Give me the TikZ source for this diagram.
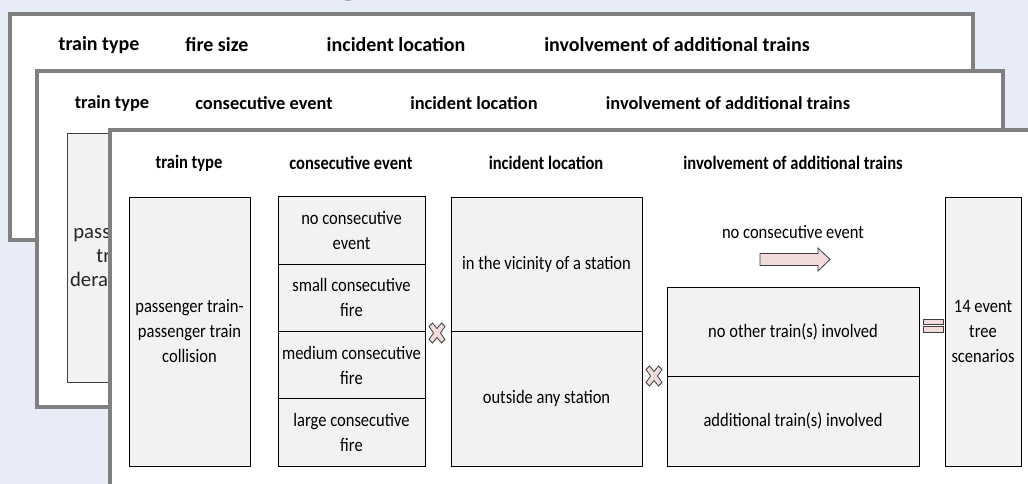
\documentclass[tikz,border=0pt]{standalone}
\usepackage{fontspec}
\setmainfont{Carlito}
\newfontfamily\pthree[FakeStretch=0.87]{Carlito}
\definecolor{bg}{RGB}{232,236,246}
\definecolor{panelgray}{RGB}{128,128,128}
\definecolor{cellfill}{RGB}{242,242,242}
\definecolor{pinkfill}{RGB}{242,220,219}
\definecolor{titleblue}{RGB}{40,70,150}
\begin{document}
\begin{tikzpicture}[x=1pt,y=-1pt,
  panel/.style={draw=panelgray, line width=4, fill=white},
  hone/.style={font=\fontsize{20}{24}\selectfont\bfseries, inner sep=0},
  htwo/.style={font=\fontsize{18.4}{22}\selectfont\bfseries, inner sep=0},
  hthree/.style={font=\pthree\fontsize{19}{25}\selectfont\bfseries, inner sep=0},
  txtthree/.style={font=\pthree\fontsize{19}{25}\selectfont, inner sep=0},
  cell/.style={draw=black, line width=1, fill=cellfill, inner sep=0, align=center,
    font=\pthree\fontsize{19}{25}\selectfont},
  oldcell/.style={draw=black!75, line width=1, fill=cellfill, inner sep=0, align=center,
    font=\fontsize{20.7}{24}\selectfont, text=black!85},
  sym/.style={draw=black!75, fill=pinkfill, line width=0.8}]
\useasboundingbox (0,0) rectangle (1028,484);
\clip (0,0) rectangle (1028,484);
\fill[bg] (0,0) rectangle (1028,484);
% partially visible title glyph (descender only, as in the reference)
\node[anchor=base, font=\fontsize{44}{44}\selectfont\bfseries, text=titleblue, inner sep=0] (title) at (349,-6) {g};

% ---------- panel 1 ----------
\draw[panel] (10,14) rectangle (973,240);
\node[hone] (p1a) at (99,45) {train type};
\node[hone] (p1b) at (217,45) {fire size};
\node[hone] (p1c) at (396,45) {incident location};
\node[hone] (p1d) at (677,45) {involvement of additional trains};

% ---------- panel 2 ----------
\draw[panel] (37,71) rectangle (1003,407);
\node[htwo] (p2a) at (112,103) {train type};
\node[htwo] (p2b) at (264,103) {consecutive event};
\node[htwo] (p2c) at (474,103) {incident location};
\node[htwo] (p2d) at (728,103) {involvement of additional trains};
\node[oldcell, minimum width=98, minimum height=248] (p2box) at (116,258) {passenger\\train\\derailment};

% ---------- panel 3 ----------
\draw[panel] (110,130) rectangle (1040,500);
\node[hthree] (p3a) at (189,163) {train type};
\node[hthree] (p3b) at (351,163) {consecutive event};
\node[hthree] (p3c) at (546,163) {incident location};
\node[hthree] (p3d) at (793,163) {involvement of additional trains};

% train type
\node[cell, minimum width=121, minimum height=269] (A) at (189.5,331.5) {passenger train-\\passenger train\\collision};

% consecutive event
\node[cell, minimum width=147, minimum height=67.25] (B1) at (351.5,230.6) {no consecutive\\event};
\node[cell, minimum width=147, minimum height=67.25] (B2) at (351.5,297.9) {small consecutive\\fire};
\node[cell, minimum width=147, minimum height=67.25] (B3) at (351.5,365.1) {medium consecutive\\fire};
\node[cell, minimum width=147, minimum height=67.25] (B4) at (351.5,432.4) {large consecutive\\fire};

% incident location
\node[cell, minimum width=191, minimum height=134.5] (C1) at (546.5,264.25) {in the vicinity of a station};
\node[cell, minimum width=191, minimum height=134.5] (C2) at (546.5,398.75) {outside any station};

% involvement of additional trains
\node[txtthree] (nce) at (793,232) {no consecutive event};
\draw[sym] (760,253.5) -- (818,253.5) -- (818,248) -- (830,259.5) -- (818,271) -- (818,265.5) -- (760,265.5) -- cycle;
\node[cell, minimum width=252, minimum height=89.5] (D1) at (793,331.75) {no other train(s) involved};
\node[cell, minimum width=252, minimum height=89.5] (D2) at (793,421.25) {additional train(s) involved};

% result
\node[cell, minimum width=76, minimum height=269] (E) at (983,331.5) {14 event\\tree\\scenarios};

% operators
\draw[sym, shift={(437,333)}] (0,-4.5) -- (4.5,-10) -- (8,-6.5) -- (3.5,0) -- (8,6.5) -- (4.5,10) -- (0,4.5) -- (-4.5,10) -- (-8,6.5) -- (-3.5,0) -- (-8,-6.5) -- (-4.5,-10) -- cycle;
\draw[sym, shift={(654,376)}] (0,-4.5) -- (4.5,-10) -- (8,-6.5) -- (3.5,0) -- (8,6.5) -- (4.5,10) -- (0,4.5) -- (-4.5,10) -- (-8,6.5) -- (-3.5,0) -- (-8,-6.5) -- (-4.5,-10) -- cycle;
\draw[sym] (923,319) rectangle (943,324.5);
\draw[sym] (923,326.5) rectangle (943,332);
\end{tikzpicture}
\end{document}
